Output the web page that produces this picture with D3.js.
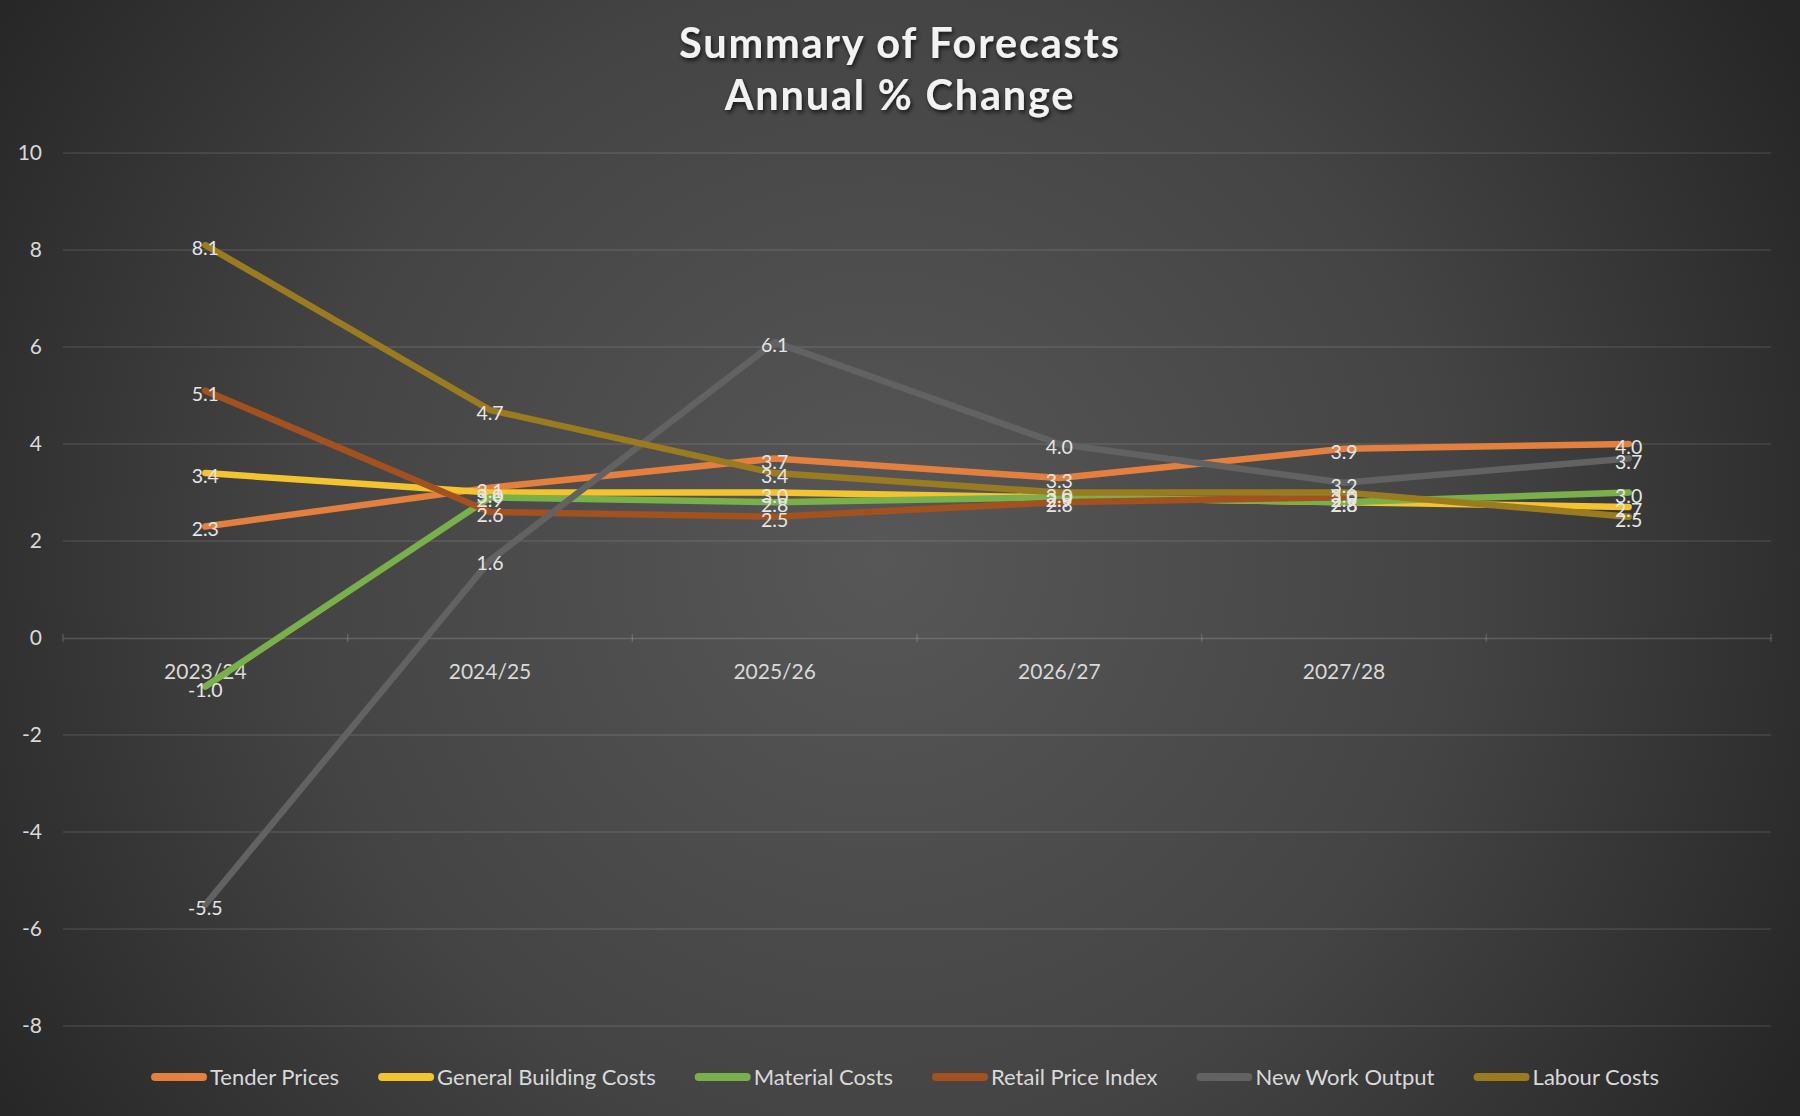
<!DOCTYPE html>
<html>
<head>
<meta charset="utf-8">
<script src="https://cdn.jsdelivr.net/npm/d3@7"></script>
<style>
  html, body { margin: 0; padding: 0; background: #333; }
  svg { display: block; }
</style>
</head>
<body>
<svg id="chart" width="1800" height="1116"></svg>
<script>
const categories = ["2023/24", "2024/25", "2025/26", "2026/27", "2027/28", ""];
const tenderPrices = [2.3, 3.1, 3.7, 3.3, 3.9, 4.0];
const generalBuildingCosts = [3.4, 3.0, 3.0, 2.9, 2.8, 2.7];
const materialCosts = [-1.0, 2.9, 2.8, 2.9, 2.8, 3.0];
const retailPriceIndex = [5.1, 2.6, 2.5, 2.8, 2.9, null];
const newWorkOutput = [-5.5, 1.6, 6.1, 4.0, 3.2, 3.7];
const labourCosts = [8.1, 4.7, 3.4, 3.0, 3.0, 2.5];
const yTicks = [-8, -6, -4, -2, 0, 2, 4, 6, 8, 10];
const seriesNames = ["Tender Prices", "General Building Costs", "Material Costs", "Retail Price Index", "New Work Output", "Labour Costs"];
const seriesColors = ["#E4803E", "#F3C330", "#7AB04A", "#A3511E", "#626262", "#9B7B1F"];
const titleLines = ["Summary of Forecasts", "Annual % Change"];

const seriesValues = [tenderPrices, generalBuildingCosts, materialCosts, retailPriceIndex, newWorkOutput, labourCosts];
const series = seriesNames.map((name, i) => ({ name, color: seriesColors[i], values: seriesValues[i] }));
const fmt = v => d3.format(".1f")(v).replace("\u2212", "-");

const W = 1800, H = 1116;
const svg = d3.select("#chart");
const defs = svg.append("defs");

const grad = defs.append("radialGradient")
  .attr("id", "bg").attr("gradientUnits", "userSpaceOnUse")
  .attr("cx", 880).attr("cy", 560).attr("r", 1050);
grad.append("stop").attr("offset", "0").attr("stop-color", "#575757");
grad.append("stop").attr("offset", "0.55").attr("stop-color", "#444444");
grad.append("stop").attr("offset", "1").attr("stop-color", "#262626");

const shadow = defs.append("filter").attr("id", "tshadow")
  .attr("x", "-10%").attr("y", "-30%").attr("width", "120%").attr("height", "160%");
shadow.append("feDropShadow").attr("dx", 1.5).attr("dy", 2.5).attr("stdDeviation", 2)
  .attr("flood-color", "#000").attr("flood-opacity", 0.7);

svg.append("rect").attr("width", W).attr("height", H).attr("fill", "url(#bg)");

const x = d3.scaleBand().domain(categories).range([63, 1771]);
const y = d3.scaleLinear().domain([-8, 10]).range([1026, 153]);
const cx = c => x(c) + x.bandwidth() / 2;

// gridlines
svg.append("g").selectAll("line").data(yTicks.filter(t => t !== 0)).join("line")
  .attr("x1", x.range()[0]).attr("x2", x.range()[1])
  .attr("y1", d => y(d)).attr("y2", d => y(d))
  .attr("stroke", "rgba(255,255,255,0.11)").attr("stroke-width", 1.5);

// y tick labels
svg.append("g").selectAll("text").data(yTicks).join("text")
  .attr("x", 42).attr("y", d => y(d) + 7)
  .attr("text-anchor", "end")
  .attr("font-family", "Lato, 'Open Sans', sans-serif").attr("font-size", 21)
  .attr("fill", "#d9d9d9").text(d => d);

// x axis (zero line) with ticks
const xAxis = d3.axisBottom(x).tickSize(0).tickFormat("");
const gx = svg.append("g").attr("transform", `translate(0,${y(0)})`).call(xAxis);
gx.select(".domain").attr("stroke", "rgba(255,255,255,0.16)").attr("stroke-width", 1.5);
const bounds = categories.map(c => x(c)).concat([x.range()[1]]);
gx.selectAll(".btick").data(bounds).join("line").attr("class", "btick")
  .attr("x1", d => d).attr("x2", d => d).attr("y1", -4).attr("y2", 4)
  .attr("stroke", "rgba(255,255,255,0.16)").attr("stroke-width", 1.5);

// x labels
svg.append("g").selectAll("text").data(categories).join("text")
  .attr("x", d => cx(d)).attr("y", y(0) + 41)
  .attr("text-anchor", "middle")
  .attr("font-family", "Lato, 'Open Sans', sans-serif").attr("font-size", 21)
  .attr("fill", "#d9d9d9").text(d => d);

// lines
const line = d3.line()
  .defined(d => d.v !== null)
  .x(d => cx(d.c)).y(d => y(d.v));
svg.append("g").selectAll("path").data(series).join("path")
  .attr("d", s => line(s.values.map((v, i) => ({ c: categories[i], v }))))
  .attr("fill", "none").attr("stroke", s => s.color).attr("stroke-width", 6.5)
  .attr("stroke-linejoin", "round").attr("stroke-linecap", "round");

// data labels
const lbl = svg.append("g");
series.forEach(s => {
  lbl.append("g").selectAll("text")
    .data(s.values.map((v, i) => ({ c: categories[i], v })).filter(d => d.v !== null))
    .join("text")
    .attr("x", d => cx(d.c)).attr("y", d => y(d.v) + 10)
    .attr("text-anchor", "middle")
    .attr("font-family", "Lato, 'Open Sans', sans-serif").attr("font-size", 19.5)
    .attr("fill", "#e6e6e6").text(d => fmt(d.v));
});

// title
svg.append("g").attr("filter", "url(#tshadow)").selectAll("text").data(titleLines).join("text")
  .attr("x", 900).attr("y", (d, i) => 58 + i * 52)
  .attr("text-anchor", "middle")
  .attr("font-family", "Lato, 'Open Sans', sans-serif").attr("font-weight", "bold")
  .attr("font-size", 41.5).attr("letter-spacing", 1.8)
  .attr("fill", "#f2f2f2").text(d => d);

// legend
const lg = svg.append("g").attr("transform", "translate(0,1077)");
const items = lg.selectAll("g").data(series).join("g");
items.append("line").attr("x1", 4).attr("x2", 52).attr("y1", 0).attr("y2", 0)
  .attr("stroke", s => s.color).attr("stroke-width", 8).attr("stroke-linecap", "round");
items.append("text").attr("x", 59).attr("y", 7.5)
  .attr("font-family", "Lato, 'Open Sans', sans-serif").attr("font-size", 22)
  .attr("fill", "#d9d9d9").text(s => s.name);
let widths = [];
items.each(function() { widths.push(this.getBBox().width); });
const gap = 43;
const total = d3.sum(widths) + gap * (widths.length - 1);
let pos = 903 - total / 2;
items.attr("transform", (s, i) => { const t = `translate(${pos},0)`; pos += widths[i] + gap; return t; });
</script>
</body>
</html>
